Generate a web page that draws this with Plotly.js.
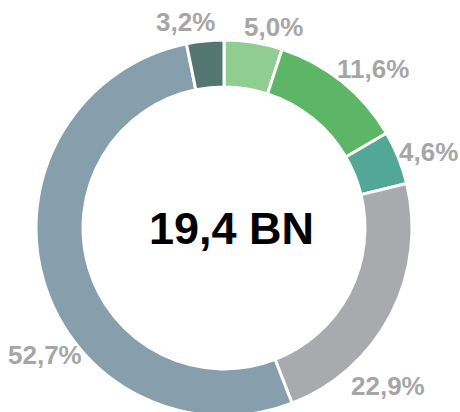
<!DOCTYPE html>
<html><head><meta charset="utf-8">
<script src="https://cdn.plot.ly/plotly-3.0.1.min.js"></script>
<style>html,body{margin:0;padding:0;background:#fff;overflow:hidden;}</style>
</head><body>
<div id="chart" style="width:460px;height:416px;"></div>
<script>
const categories = ["A", "B", "C", "D", "E", "F"];
const shares = [5.0, 11.6, 4.6, 22.9, 52.7, 3.2];
const colors = ["#90cd90", "#5db665", "#52a797", "#a9aaad", "#879fad", "#537671"];
const centerLabel = "19,4 BN";
// label anchor positions in pixels (layout only)
const labelPx = [[273, 27], [373, 69], [428, 152], [388, 386], [45, 355], [185, 22]];

const W = 460, H = 416;
const fmt = v => v.toFixed(1).replace(".", ",") + "%";
const labelFont = {family: "Liberation Sans, Arial, sans-serif", size: 26, color: "#a6a6a6"};

const annotations = shares.map((v, i) => ({
  text: "<b>" + fmt(v) + "</b>",
  x: labelPx[i][0] / W, y: (H - labelPx[i][1]) / H,
  xref: "paper", yref: "paper", xanchor: "center", yanchor: "middle",
  showarrow: false, font: labelFont
}));
annotations.push({
  text: "<b>" + centerLabel + "</b>",
  x: 231.5 / W, y: (H - 228) / H, xref: "paper", yref: "paper",
  xanchor: "center", yanchor: "middle",
  showarrow: false,
  font: {family: "Liberation Sans, Arial, sans-serif", size: 45, color: "#000000"}
});

Plotly.newPlot("chart", [{
  type: "pie",
  labels: categories,
  values: shares,
  sort: false,
  direction: "clockwise",
  rotation: 0,
  hole: 0.75,
  marker: {colors: colors, line: {color: "#ffffff", width: 3}},
  textinfo: "none",
  textposition: "none",
  automargin: false,
  showlegend: false,
  hoverinfo: "none",
  domain: {x: [36 / W, 412 / W], y: [0, 376 / H]}
}], {
  width: W, height: H,
  margin: {l: 0, r: 0, t: 0, b: 0},
  paper_bgcolor: "#ffffff",
  showlegend: false,
  annotations: annotations
}, {staticPlot: true, displayModeBar: false});
</script>
</body></html>
